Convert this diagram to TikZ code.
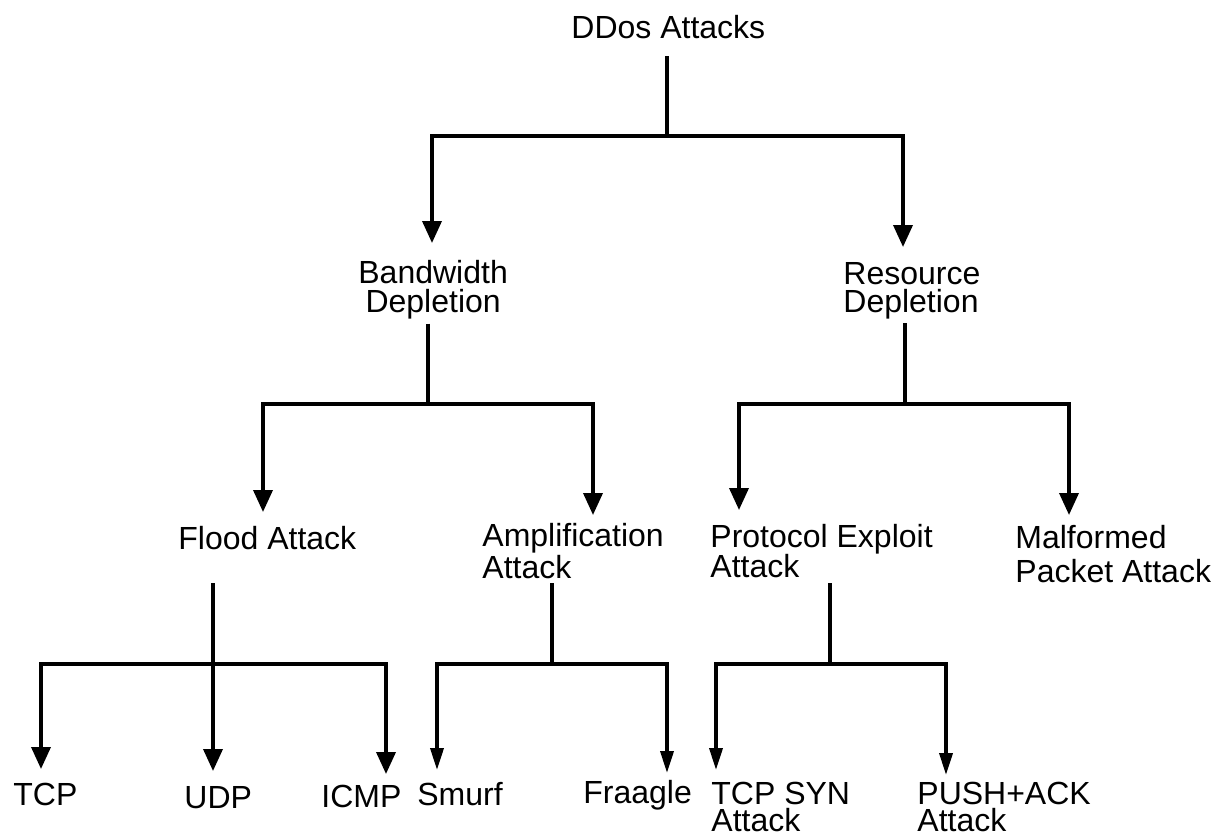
\documentclass[tikz,border=0pt]{standalone}
\usepackage{fontspec}
\setmainfont{Liberation Sans}
\usetikzlibrary{arrows.meta,calc}

\begin{document}
\begin{tikzpicture}[x=0.5pt,y=-0.5pt,
    lbl/.style={anchor=north west,inner sep=0pt,align=left,
                font=\fontsize{16}{#1}\selectfont},
    lbl/.default=15pt,
    link/.style={line width=1.8pt},
    arr/.style={link,-{Triangle[width=9.5pt,length=11pt]}},
    slim/.style={link,-{Triangle[width=6.5pt,length=11pt]}}]
    \useasboundingbox (0,0) rectangle (1215,837);

    \node[lbl]                    (ddos)    at (571,15)  {DDos Attacks};
    \node[lbl=14.5pt,align=center] (bw)     at (358,260) {Bandwidth\\Depletion};
    \node[lbl=14pt]               (rd)      at (843,262) {Resource\\Depletion};
    \node[lbl]                    (flood)   at (178,526) {Flood Attack};
    \node[lbl=16pt]               (amp)     at (482,523) {Amplification\\Attack};
    \node[lbl=15pt]               (proto)   at (710,524) {Protocol Exploit\\Attack};
    \node[lbl=17pt]               (malf)    at (1015,525) {Malformed\\Packet Attack};
    \node[lbl]                    (tcp)     at (13,783)  {TCP};
    \node[lbl]                    (udp)     at (184,786) {UDP};
    \node[lbl]                    (icmp)    at (321,785) {ICMP};
    \node[lbl]                    (smurf)   at (417,782) {Smurf};
    \node[lbl]                    (fraagle) at (583,780) {Fraagle};
    \node[lbl=13.5pt]             (tcpsyn)  at (711,782) {TCP SYN\\Attack};
    \node[lbl=13.5pt]             (pushack) at (917,782) {PUSH+ACK\\Attack};

    \coordinate (ddosfork)  at (667,136);
    \coordinate (bwfork)    at (428,404);
    \coordinate (rdfork)    at (905,404);
    \coordinate (floodfork) at (213,664);
    \coordinate (ampfork)   at (552,664);
    \coordinate (protofork) at (830,664);

    \draw[link,shorten <=8.5pt] (ddos.south -| ddosfork)   -- (ddosfork);
    \draw[link,shorten <=2pt]   (bw.south -| bwfork)       -- (bwfork);
    \draw[link,shorten <=2pt]   (rd.south -| rdfork)       -- (rdfork);
    \draw[link,shorten <=16.5pt] (flood.south -| floodfork) -- (floodfork);
    \draw[link,shorten <=2pt]   (amp.south -| ampfork)     -- (ampfork);
    \draw[link,shorten <=2.5pt] (proto.south -| protofork) -- (protofork);

    \draw[arr]  (ddosfork)  -| ($(bw.north west)+(74,-17)$);
    \draw[arr]  (ddosfork)  -| ($(rd.north west)+(60,-15)$);
    \draw[arr]  (bwfork)    -| ($(flood.north west)+(85,-14)$);
    \draw[arr]  (bwfork)    -| ($(amp.north west)+(111,-8)$);
    \draw[arr]  (rdfork)    -| ($(proto.north west)+(29,-14)$);
    \draw[arr]  (rdfork)    -| ($(malf.north west)+(54,-10)$);
    \draw[arr]  (floodfork) -| ($(tcp.north west)+(28,-14)$);
    \draw[arr]  (floodfork) -| ($(udp.north west)+(29,-15)$);
    \draw[arr]  (floodfork) -| ($(icmp.north west)+(65,-11)$);
    \draw[slim] (ampfork)   -| ($(smurf.north west)+(20,-12)$);
    \draw[slim] (ampfork)   -| ($(fraagle.north west)+(84,-7)$);
    \draw[slim] (protofork) -| ($(tcpsyn.north west)+(5,-12)$);
    \draw[slim] (protofork) -| ($(pushack.north west)+(29,-7)$);
\end{tikzpicture}
\end{document}
